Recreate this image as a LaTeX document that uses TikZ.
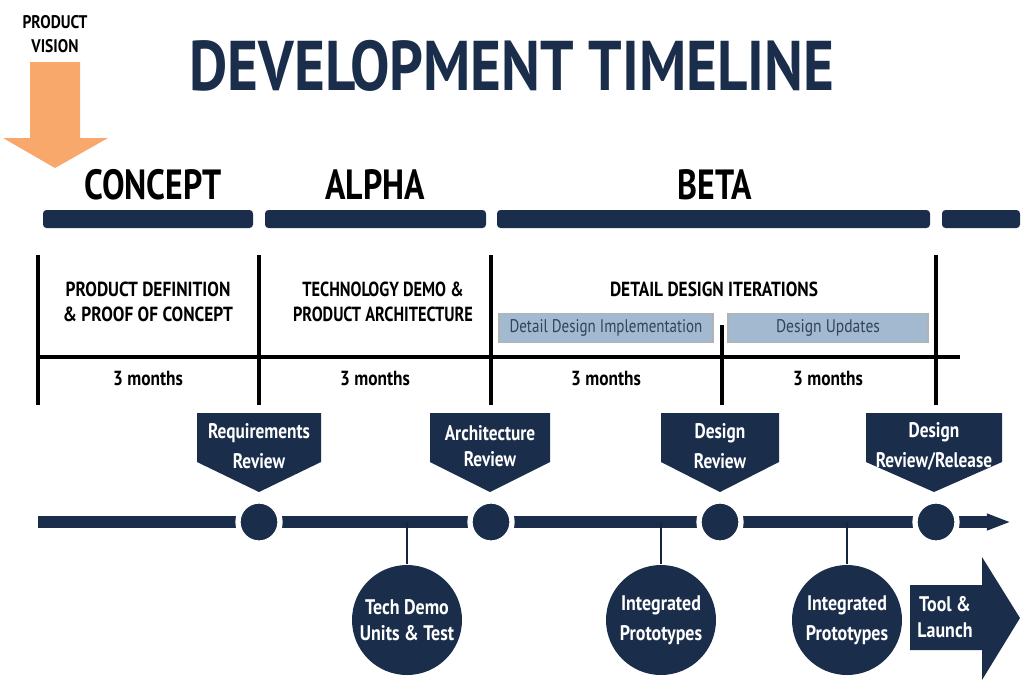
\documentclass[tikz,border=0pt]{standalone}
\usepackage{fontspec}
\setmainfont{PT Sans}
\usetikzlibrary{arrows.meta}
\definecolor{navy}{HTML}{1A2E4C}
\definecolor{vision}{HTML}{F9A86C}
\definecolor{bluebox}{HTML}{A3B9CF}
\newcommand{\cond}[2]{\scalebox{#1}[1]{#2}}
\def\pxu{*0.01cm}
\tikzset{
    phase/.style ={font=\bfseries\fontsize{12}{12}\selectfont, text=black},
    task/.style ={font=\bfseries\fontsize{5.8}{7}\selectfont, align=center, text=black},
    months/.style ={font=\bfseries\fontsize{5.8}{7}\selectfont, text=black},
    sub/.style ={fill=bluebox, draw=gray!60, inner sep=0pt, minimum height=29\pxu, font=\fontsize{5.2}{6}\selectfont, text=navy!90},
    revtxt/.style ={font=\bfseries\fontsize{6}{7.4}\selectfont, align=center, text=white},
    mile/.style ={circle, fill=navy, draw=white, line width=1.5pt, minimum size=42\pxu, inner sep=0pt},
    deliv/.style ={circle, fill=navy, minimum size=110\pxu, inner sep=0pt, font=\bfseries\fontsize{6}{7.4}\selectfont, align=center, text=white},
    divider/.style ={line width=1pt, black}}
\begin{document}
\begin{tikzpicture}[x=0.01cm,y=-0.01cm]
    \useasboundingbox (0,0) rectangle (1024,687);
    % title and vision arrow
    \node[text=navy, font=\bfseries\fontsize{20}{20}\selectfont] (title) at (512,66) {\cond{0.84}{DEVELOPMENT TIMELINE}};
    \fill[vision] (30,62) -- (80,62) -- (80,138) -- (108,138) -- (55,168) -- (3,138) -- (30,138) -- cycle;
    \node[task, font=\bfseries\fontsize{5.2}{6.6}\selectfont] (vision) at (55,34) {\cond{0.85}{PRODUCT}\\\cond{0.85}{VISION}};
    % phases
    \node[phase] (concept) at (153,185) {\cond{0.8}{CONCEPT}};
    \node[phase] (alpha) at (375,185) {\cond{0.8}{ALPHA}};
    \node[phase] (beta) at (715,185) {\cond{0.8}{BETA}};
    \foreach \a/\b in {43/253,265/486,497/930,942/1020}
        \fill[navy, rounded corners=1pt] (\a,210) rectangle (\b,228);
    % grid
    \foreach \x in {38,259,491,936}
        \draw[divider] (\x,255) -- (\x,405);
    \draw[divider] (722,325) -- (722,405);
    \draw[divider] (38,357) -- (960,357);
    \node[task] (pd) at (148,302) {\cond{0.85}{PRODUCT DEFINITION}\\\cond{0.85}{\& PROOF OF CONCEPT}};
    \node[task] (td) at (383,302) {\cond{0.8}{TECHNOLOGY DEMO \&}\\\cond{0.8}{PRODUCT ARCHITECTURE}};
    \node[task] (dd) at (714,289) {\cond{0.85}{DETAIL DESIGN ITERATIONS}};
    \node[sub, minimum width=214\pxu] (ddi) at (606,328) {\cond{0.82}{Detail Design Implementation}};
    \node[sub, minimum width=200\pxu] (du) at (828,328) {\cond{0.85}{Design Updates}};
    \foreach \x in {148,375,606,828}
        \node[months] at (\x,378) {\cond{0.85}{3 months}};
    % reviews
    \foreach \x/\w/\t in {259/62/{Requirements\\Review},490/60/{Architecture\\Review},720/59/{Design\\Review},934/68/{Design\\Review/Release}}{
        \fill[navy] (\x-\w,413) -- (\x+\w,413) -- (\x+\w,462) -- (\x,492) -- (\x-\w,462) -- cycle;
        \node[revtxt] at (\x,446) {\cond{0.82}{\shortstack{\t}}};
    }
    % timeline
    \coordinate (start) at (38,522);
    \coordinate (end) at (1022,522);
    \draw[navy, line width=3.6pt, -{Triangle[length=10pt,width=3.6pt]}] (start) -- (end);
    \node[mile] (m1) at (259,522) {};
    \node[mile] (m2) at (491,522) {};
    \node[mile] (m3) at (720,522) {};
    \node[mile] (m4) at (936,522) {};
    % deliverables
    \node[deliv] (tdu) at (407,620) {\cond{0.85}{\shortstack{Tech Demo\\Units \& Test}}};
    \node[deliv] (ip1) at (661,620) {\cond{0.85}{\shortstack{Integrated\\Prototypes}}};
    \node[deliv] (ip2) at (847,620) {\cond{0.85}{\shortstack{Integrated\\Prototypes}}};
    \foreach \n in {tdu,ip1,ip2}
        \draw[navy!80!black, line width=0.8pt] (\n.north) -- (\n.north |- start);
    \fill[navy] (910,585) -- (982,585) -- (982,557) -- (1020,618) -- (982,680) -- (982,650) -- (910,650) -- cycle;
    \node[revtxt] (launch) at (945,617) {\cond{0.85}{\shortstack{Tool \&\\Launch}}};
\end{tikzpicture}
\end{document}
